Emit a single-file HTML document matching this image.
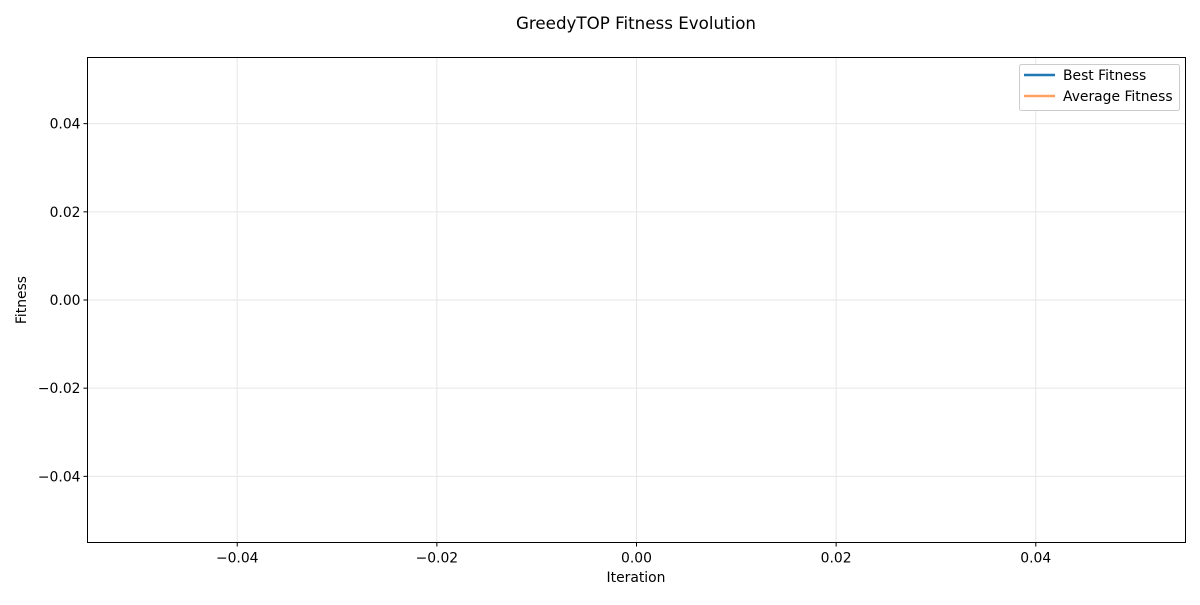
<!DOCTYPE html>
<html><head><meta charset="utf-8"><style>
body{margin:0;background:#fff;}
svg text{font-family:"DejaVu Sans","Liberation Sans",sans-serif;fill:#000;}
</style></head><body>
<svg id="chart" width="1200" height="600">
<rect width="1200" height="600" fill="#fff"/>
<text x="636" y="29" font-size="16.7" text-anchor="middle">GreedyTOP Fitness Evolution</text>
<g id="grid"></g>
<g id="xticks"></g>
<g id="yticks"></g>
<g id="series"></g>
<rect x="87.5" y="57.5" width="1098" height="485" fill="none" stroke="#000" stroke-width="1"/>
<text x="636" y="582" font-size="13.9" text-anchor="middle">Iteration</text>
<text x="26" y="300" font-size="13.9" text-anchor="middle" transform="rotate(-90 26 300)">Fitness</text>
<g>
<rect x="1019.5" y="64.5" width="160" height="46" rx="2" fill="#fff" stroke="#ccc"/>
<line x1="1024" y1="75" x2="1055" y2="75" stroke="#1f77b4" stroke-width="2.5"/>
<text x="1063" y="80" font-size="13.9">Best Fitness</text>
<line x1="1024" y1="96" x2="1055" y2="96" stroke="#ffa062" stroke-width="2.5"/>
<text x="1063" y="101" font-size="13.9">Average Fitness</text>
</g>
</svg>
<script>
const iterations = [];
const bestFitness = [];
const avgFitness = [];
const xTicks = [-0.04, -0.02, 0.00, 0.02, 0.04];
const yTicks = [0.04, 0.02, 0.00, -0.02, -0.04];
const xLabels = ["\u22120.04","\u22120.02","0.00","0.02","0.04"];
const yLabels = ["0.04","0.02","0.00","\u22120.02","\u22120.04"];

const NS="http://www.w3.org/2000/svg";
const X0=87.5,X1=1185.5,Y0=57.5,Y1=542.5;
const xMin=-0.055,xMax=0.055,yMin=-0.055,yMax=0.055;
function sx(v){return X0+(v-xMin)/(xMax-xMin)*(X1-X0);}
function sy(v){return Y1-(v-yMin)/(yMax-yMin)*(Y1-Y0);}
function mk(tag,attrs,parent){const e=document.createElementNS(NS,tag);for(const k in attrs)e.setAttribute(k,attrs[k]);parent.appendChild(e);return e;}
const grid=document.getElementById('grid'),gx=document.getElementById('xticks'),gy=document.getElementById('yticks'),gs=document.getElementById('series');
xTicks.forEach((t,i)=>{
  const x=sx(t);
  const g=mk('line',{x1:x,x2:x,y1:Y0,y2:Y1,stroke:'#e6e6e6','stroke-width':1},grid);
  
  
  const tk=mk('line',{x1:x,x2:x,y1:Y1,y2:Y1+4,stroke:'#000'},gx);
  
  
  const tx=mk('text',{x:x,y:Y1+20,'font-size':13.9,'text-anchor':'middle'},gx);
  tx.textContent=xLabels[i];
  
  
});
yTicks.forEach((t,i)=>{
  const y=sy(t);
  const g=mk('line',{x1:X0,x2:X1,y1:y,y2:y,stroke:'#e6e6e6','stroke-width':1},grid);
  
  
  const tk=mk('line',{x1:X0-4,x2:X0,y1:y,y2:y,stroke:'#000'},gy);
  
  
  const tx=mk('text',{x:X0-7,y:y+5,'font-size':13.9,'text-anchor':'end'},gy);
  tx.textContent=yLabels[i];
  
  
});
function line(vals,color,name){
  if(!vals.length)return;
  const p=mk('polyline',{points:vals.map((v,i)=>sx(iterations[i])+','+sy(v)).join(' '),fill:'none',stroke:color,'stroke-width':2},gs);
  
  
}
line(bestFitness,'#1f77b4','best-fitness-line');
line(avgFitness,'#ffa062','average-fitness-line');
</script>
</body></html>
